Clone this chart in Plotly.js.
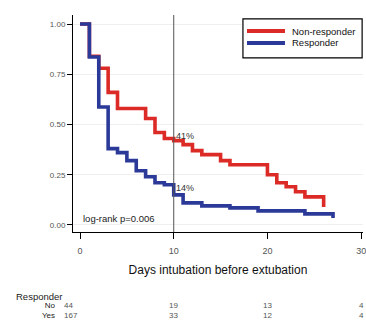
<!DOCTYPE html>
<html>
<head>
<meta charset="utf-8">
<script src="https://cdn.plot.ly/plotly-3.0.1.min.js"></script>
<style>html,body{margin:0;padding:0;background:#fff;}#chart{width:366px;height:324px;}</style>
</head>
<body>
<div id="chart"></div>
<script>
// Kaplan-Meier step data
var nonRespTimes = [0, 1, 2, 3, 4, 7, 8, 9, 10, 11, 12, 13, 15, 16, 20, 21, 22, 23, 24, 26];
var nonRespSurv  = [1.0, 0.84, 0.78, 0.66, 0.58, 0.53, 0.46, 0.43, 0.42, 0.40, 0.37, 0.35, 0.32, 0.30, 0.25, 0.21, 0.19, 0.165, 0.14, 0.09];
var respTimes = [0, 1, 2, 3, 4, 5, 6, 7, 8, 9, 10, 11, 13, 16, 19, 24, 27];
var respSurv  = [1.0, 0.836, 0.587, 0.38, 0.36, 0.32, 0.27, 0.24, 0.21, 0.20, 0.15, 0.11, 0.095, 0.085, 0.07, 0.055, 0.035];

var seriesNames = ["Non-responder", "Responder"];
var xTicks = [0, 10, 20, 30];
var yTicks = [0, 0.25, 0.5, 0.75, 1.0];
var yTickLabels = ["0.00", "0.25", "0.50", "0.75", "1.00"];

var markDay = 10;
var markLabels = ["41%", "14%"];
var markValues = [0.42, 0.16];
var pText = "log-rank p=0.006";

var riskTitle = "Responder";
var riskGroups = ["No", "Yes"];
var riskDays = [0, 10, 20, 30];
var riskNo = [44, 19, 13, 4];
var riskYes = [167, 33, 12, 4];

var FONT = "Liberation Sans Narrow, Arial Narrow, Liberation Sans, Arial, sans-serif";
var RED = "#dc2b26";
var BLUE = "#2b3a98";
var COLORS = [RED, BLUE];

var traces = [
  {x: nonRespTimes, y: nonRespSurv, type: "scatter", mode: "lines", name: seriesNames[0],
   line: {shape: "hv", color: RED, width: 3.6}},
  {x: respTimes, y: respSurv, type: "scatter", mode: "lines", name: seriesNames[1],
   line: {shape: "hv", color: BLUE, width: 3.6}}
];

var annotations = [];
for (var i = 0; i < markLabels.length; i++) {
  annotations.push({x: markDay, y: markValues[i], xref: "x", yref: "y", text: markLabels[i],
    showarrow: false, xanchor: "left", yanchor: "bottom", xshift: 0, yshift: -2,
    font: {family: FONT, size: 9, color: "#333"}});
}
annotations.push({x: 0, y: 0, xref: "x", yref: "y", text: pText, showarrow: false,
  xanchor: "left", yanchor: "middle", xshift: 1, yshift: 6, font: {family: FONT, size: 9.5, color: "#222"}});

// manual legend (box, line samples, labels)
var shapes = [{type: "line", xref: "x", yref: "paper", x0: markDay, x1: markDay, y0: 0, y1: 1,
    line: {color: "#555", width: 1}},
  {type: "rect", xref: "paper", yref: "paper", x0: 0.586, x1: 0.997, y0: 0.802, y1: 0.982,
    line: {color: "#000", width: 1.2}, fillcolor: "#fff", layer: "above"}];
var legY = [0.926, 0.871];
for (var k = 0; k < seriesNames.length; k++) {
  shapes.push({type: "line", xref: "paper", yref: "paper", x0: 0.6, x1: 0.731, y0: legY[k], y1: legY[k],
    line: {color: COLORS[k], width: 4}, layer: "above"});
  annotations.push({x: 0.748, y: legY[k], xref: "paper", yref: "paper", text: seriesNames[k],
    showarrow: false, xanchor: "left", yanchor: "middle", font: {family: FONT, size: 9.5, color: "#111"}});
}

// number-at-risk table: one annotation per column, rows stacked with <br>
var tableY = -0.364;
annotations.push({x: 0, y: -0.295, xref: "paper", yref: "paper", text: riskTitle, showarrow: false,
  xanchor: "left", yanchor: "middle", xshift: -59, font: {family: FONT, size: 9.5, color: "#222"}});
annotations.push({x: 0, y: tableY, xref: "paper", yref: "paper", text: riskGroups.join("<br>"),
  showarrow: false, xanchor: "right", yanchor: "middle", align: "right", xshift: -15,
  font: {family: FONT, size: 8, color: "#222"}});
for (var c = 0; c < riskDays.length; c++) {
  var txt = String(riskNo[c]) + "<br>" + String(riskYes[c]);
  annotations.push({x: riskDays[c], y: tableY, xref: "x", yref: "paper", text: txt,
    showarrow: false, xanchor: c === 0 ? "left" : "center", yanchor: "middle",
    align: c === 0 ? "left" : "center", xshift: c === 0 ? -18 : 0,
    font: {family: FONT, size: 8, color: "#555"}});
}

var layout = {
  width: 366, height: 324,
  margin: {l: 73, r: 3, t: 15, b: 92},
  paper_bgcolor: "#fff", plot_bgcolor: "#fff",
  showlegend: false,
  xaxis: {range: [-0.75, 30.2], tickvals: xTicks, ticktext: xTicks.map(String), ticks: "outside",
    ticklen: 6, tickcolor: "#000", showgrid: false, zeroline: false, showline: true, linecolor: "#000",
    linewidth: 1, ticklabelstandoff: 4, ticklabeloverflow: "allow",
    tickfont: {family: FONT, size: 9, color: "#555"},
    title: {text: "Days intubation before extubation", standoff: 10, font: {family: FONT, size: 12, color: "#111"}}},
  yaxis: {range: [-0.035, 1.045], tickvals: yTicks, ticktext: yTickLabels, ticks: "outside",
    ticklen: 5, tickcolor: "#000", showgrid: true, gridcolor: "#efefef", zeroline: false, showline: true,
    linecolor: "#000", linewidth: 1, tickfont: {family: FONT, size: 8, color: "#555"}},
  shapes: shapes,
  annotations: annotations
};

Plotly.newPlot("chart", traces, layout, {displayModeBar: false, staticPlot: true});
</script>
</body>
</html>
